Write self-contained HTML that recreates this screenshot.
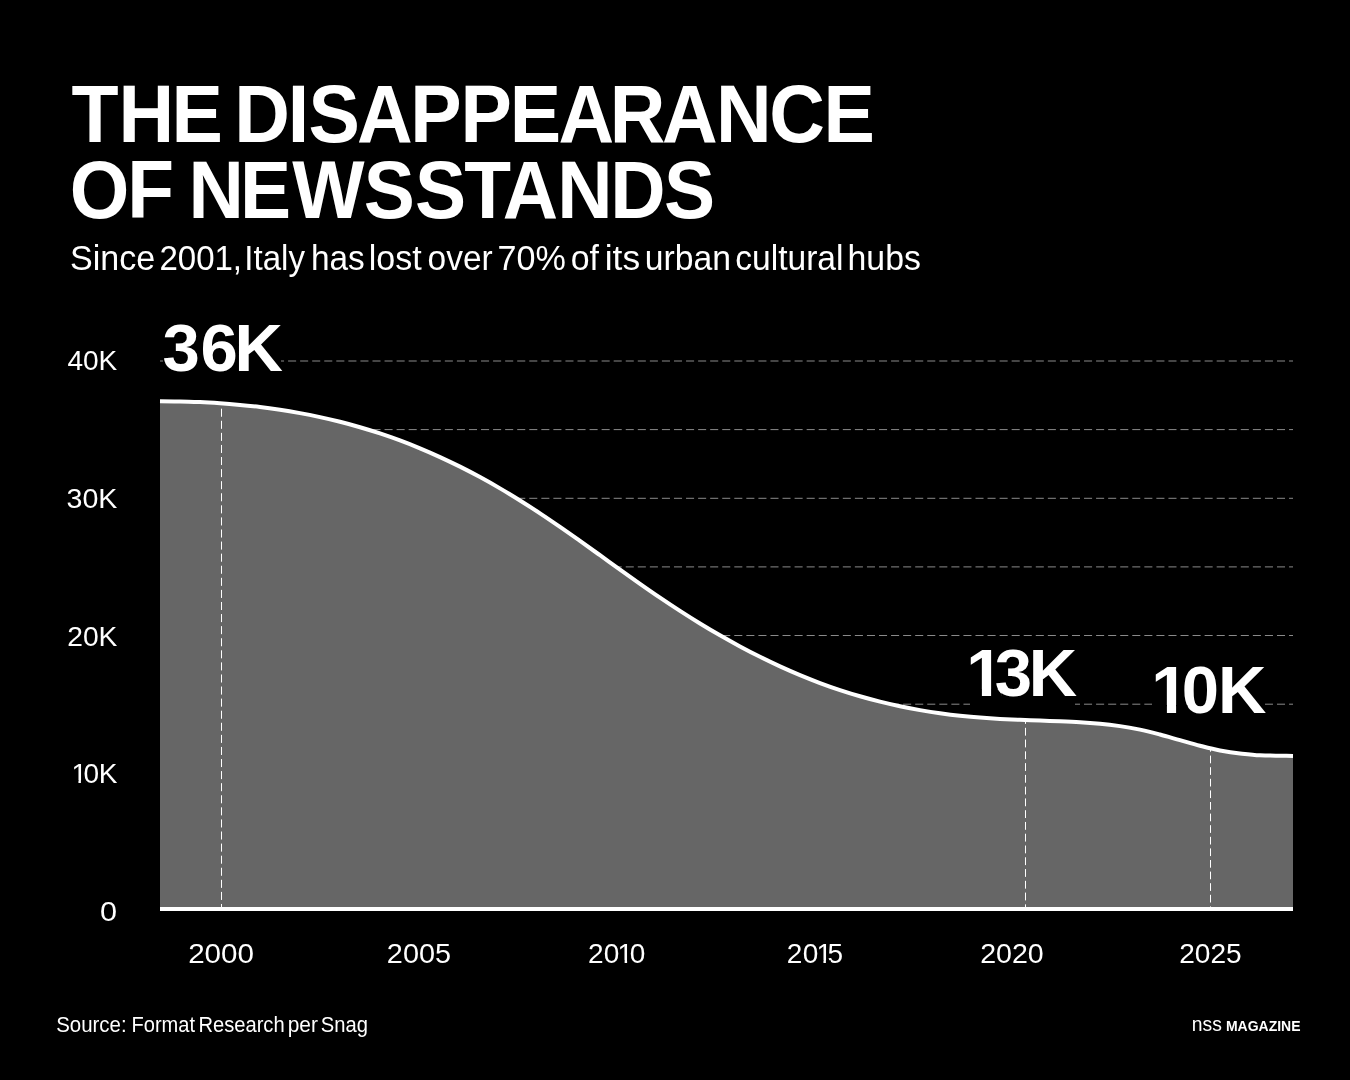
<!DOCTYPE html>
<html><head><meta charset="utf-8">
<style>
html,body{margin:0;padding:0;background:#000;}
body{width:1350px;height:1080px;overflow:hidden;position:relative;}
svg{position:absolute;left:0;top:0;display:block;will-change:transform;}
text{font-family:"Liberation Sans",Arial,sans-serif;fill:#fff;}
</style></head><body>
<svg width="1350" height="1080" viewBox="0 0 1350 1080">
<defs><clipPath id="c13" clipPathUnits="userSpaceOnUse"><rect x="940" y="600" width="160" height="89"/><rect x="981.9" y="688" width="9.2" height="40"/><path d="M997.1,688.6 L1001.0,693.6 L1001.9,693.6 L1001.9,730 L1100,730 L1100,688.6 Z"/></clipPath>
<clipPath id="c10" clipPathUnits="userSpaceOnUse"><rect x="1120" y="600" width="180" height="105"/><rect x="1166.9" y="704" width="9.2" height="40"/><rect x="1187.3" y="704" width="120" height="40"/></clipPath><mask id="m2010" maskUnits="userSpaceOnUse" x="579.71" y="923.4" width="120" height="60"><rect x="579.71" y="923.4" width="120" height="60" fill="#fff"/><rect x="618.71" y="960.40" width="5.91" height="3.6" fill="#000"/><rect x="627.10" y="960.40" width="5.04" height="3.6" fill="#000"/></mask><mask id="m2015" maskUnits="userSpaceOnUse" x="778.51" y="923.4" width="120" height="60"><rect x="778.51" y="923.4" width="120" height="60" fill="#fff"/><rect x="817.51" y="960.40" width="5.91" height="3.6" fill="#000"/><rect x="825.90" y="960.40" width="5.04" height="3.6" fill="#000"/></mask><mask id="m10k" maskUnits="userSpaceOnUse" x="33.510000000000005" y="743.3" width="120" height="60"><rect x="33.510000000000005" y="743.3" width="120" height="60" fill="#fff"/><rect x="72.51" y="780.30" width="5.91" height="3.6" fill="#000"/><rect x="80.90" y="780.30" width="5.04" height="3.6" fill="#000"/></mask></defs>
<rect width="1350" height="1080" fill="#000"/>
<text transform="translate(0,142) scale(0.935,1)" x="76.47 126.63 183.35 232.79 250.50 307.80 330.00 381.86 438.77 492.56 545.12 597.26 652.08 708.01 765.88 822.84 880.79" y="0" font-size="82.4" font-weight="700">THE DISAPPEARANCE</text><text transform="translate(0,218) scale(0.93,1)" x="75.14 136.92 186.36 202.69 257.99 314.34 391.11 446.33 499.17 540.58 599.08 656.10 713.91" y="0" font-size="82.4" font-weight="700">OF NEWSSTANDS</text>
<text y="269.8" font-size="34.6"><tspan x="70.06" textLength="85.20" lengthAdjust="spacingAndGlyphs">Since</tspan> <tspan x="159.39" textLength="82.68" lengthAdjust="spacingAndGlyphs">2001,</tspan> <tspan x="244.32" textLength="60.66" lengthAdjust="spacingAndGlyphs">Italy</tspan> <tspan x="310.90" textLength="53.87" lengthAdjust="spacingAndGlyphs">has</tspan> <tspan x="368.72" textLength="52.96" lengthAdjust="spacingAndGlyphs">lost</tspan> <tspan x="427.50" textLength="65.17" lengthAdjust="spacingAndGlyphs">over</tspan> <tspan x="497.62" textLength="68.33" lengthAdjust="spacingAndGlyphs">70%</tspan> <tspan x="570.69" textLength="28.25" lengthAdjust="spacingAndGlyphs">of</tspan> <tspan x="604.73" textLength="35.37" lengthAdjust="spacingAndGlyphs">its</tspan> <tspan x="644.81" textLength="86.18" lengthAdjust="spacingAndGlyphs">urban</tspan> <tspan x="735.19" textLength="108.30" lengthAdjust="spacingAndGlyphs">cultural</tspan> <tspan x="847.57" textLength="73.35" lengthAdjust="spacingAndGlyphs">hubs</tspan></text>
<g stroke="#8a8a8a" stroke-width="1" stroke-dasharray="8.04 4.02" stroke-dashoffset="4.59"><line x1="160" y1="361.0" x2="1293" y2="361.0"/><line x1="160" y1="429.6" x2="1293" y2="429.6"/><line x1="160" y1="498.3" x2="1293" y2="498.3"/><line x1="160" y1="566.9" x2="1293" y2="566.9"/><line x1="160" y1="635.5" x2="1293" y2="635.5"/><line x1="160" y1="704.2" x2="1293" y2="704.2"/><line x1="160" y1="772.8" x2="1293" y2="772.8"/><line x1="160" y1="841.5" x2="1293" y2="841.5"/></g>
<path d="M160.00,401.14 C166.67,401.17 173.33,401.29 180.00,401.43 C186.67,401.56 193.33,401.83 200.00,402.12 C206.67,402.41 213.33,402.82 220.00,403.26 C226.67,403.71 233.33,404.27 240.00,404.89 C246.67,405.51 253.33,406.25 260.00,407.05 C266.67,407.85 273.33,408.78 280.00,409.78 C286.67,410.78 293.33,411.91 300.00,413.12 C306.67,414.33 313.33,415.68 320.00,417.12 C326.67,418.55 333.33,420.13 340.00,421.80 C346.67,423.48 353.33,425.30 360.00,427.23 C366.67,429.15 373.33,431.23 380.00,433.43 C386.67,435.62 393.33,437.97 400.00,440.44 C406.67,442.92 413.33,445.55 420.00,448.32 C426.67,451.08 433.33,454.01 440.00,457.06 C446.67,460.11 453.33,463.33 460.00,466.66 C466.67,469.99 473.33,473.49 480.00,477.10 C486.67,480.72 493.33,484.49 500.00,488.37 C506.67,492.26 513.33,496.30 520.00,500.45 C526.67,504.61 533.33,508.93 540.00,513.33 C546.67,517.73 553.33,522.29 560.00,526.89 C566.67,531.48 573.33,536.20 580.00,540.92 C586.67,545.64 593.33,550.44 600.00,555.22 C606.67,559.99 613.33,564.81 620.00,569.57 C626.67,574.33 633.33,579.10 640.00,583.77 C646.67,588.44 653.33,593.09 660.00,597.61 C666.67,602.13 673.33,606.57 680.00,610.88 C686.67,615.19 693.33,619.39 700.00,623.46 C706.67,627.54 713.33,631.50 720.00,635.33 C726.67,639.16 733.33,642.88 740.00,646.46 C746.67,650.04 753.33,653.51 760.00,656.82 C766.67,660.14 773.33,663.34 780.00,666.39 C786.67,669.44 793.33,672.37 800.00,675.14 C806.67,677.91 813.33,680.57 820.00,683.05 C826.67,685.53 833.33,687.90 840.00,690.09 C846.67,692.29 853.33,694.37 860.00,696.29 C866.67,698.21 873.33,700.01 880.00,701.67 C886.67,703.32 893.33,704.87 900.00,706.27 C906.67,707.67 913.33,708.97 920.00,710.13 C926.67,711.29 933.33,712.36 940.00,713.28 C946.67,714.21 953.33,715.06 960.00,715.77 C966.67,716.47 973.33,717.11 980.00,717.61 C986.67,718.12 993.33,718.55 1000.00,718.91 C1006.67,719.27 1013.33,719.56 1020.00,719.83 C1026.67,720.11 1033.33,720.33 1040.00,720.58 C1046.67,720.83 1053.33,721.05 1060.00,721.33 C1066.67,721.62 1073.33,721.91 1080.00,722.30 C1086.67,722.69 1093.33,723.18 1100.00,723.78 C1106.67,724.38 1113.33,725.18 1120.00,726.12 C1126.67,727.05 1133.33,728.28 1140.00,729.65 C1146.67,731.02 1153.33,732.80 1160.00,734.55 C1166.67,736.29 1173.33,738.32 1180.00,740.18 C1186.67,742.05 1193.33,744.05 1200.00,745.75 C1206.67,747.45 1213.33,749.21 1220.00,750.44 C1226.67,751.68 1233.33,752.73 1240.00,753.49 C1246.67,754.25 1253.33,755.08 1260.00,755.30 C1266.67,755.52 1273.33,755.59 1280.00,755.70 C1284.33,755.77 1288.67,755.84 1293.00,755.90 L1293,909 L160,909 Z" fill="#666"/>
<g stroke="#fff" stroke-width="1"><line x1="221.5" y1="403.37" x2="221.5" y2="907" stroke-dasharray="8.05 4.03" stroke-dashoffset="6.75"/><line x1="1025.5" y1="720.05" x2="1025.5" y2="907" stroke-dasharray="7.85 3.92" stroke-dashoffset="4.02"/><line x1="1210.5" y1="748.39" x2="1210.5" y2="907" stroke-dasharray="7.7 3.90" stroke-dashoffset="4.39"/></g>
<path d="M160.00,401.14 C166.67,401.17 173.33,401.29 180.00,401.43 C186.67,401.56 193.33,401.83 200.00,402.12 C206.67,402.41 213.33,402.82 220.00,403.26 C226.67,403.71 233.33,404.27 240.00,404.89 C246.67,405.51 253.33,406.25 260.00,407.05 C266.67,407.85 273.33,408.78 280.00,409.78 C286.67,410.78 293.33,411.91 300.00,413.12 C306.67,414.33 313.33,415.68 320.00,417.12 C326.67,418.55 333.33,420.13 340.00,421.80 C346.67,423.48 353.33,425.30 360.00,427.23 C366.67,429.15 373.33,431.23 380.00,433.43 C386.67,435.62 393.33,437.97 400.00,440.44 C406.67,442.92 413.33,445.55 420.00,448.32 C426.67,451.08 433.33,454.01 440.00,457.06 C446.67,460.11 453.33,463.33 460.00,466.66 C466.67,469.99 473.33,473.49 480.00,477.10 C486.67,480.72 493.33,484.49 500.00,488.37 C506.67,492.26 513.33,496.30 520.00,500.45 C526.67,504.61 533.33,508.93 540.00,513.33 C546.67,517.73 553.33,522.29 560.00,526.89 C566.67,531.48 573.33,536.20 580.00,540.92 C586.67,545.64 593.33,550.44 600.00,555.22 C606.67,559.99 613.33,564.81 620.00,569.57 C626.67,574.33 633.33,579.10 640.00,583.77 C646.67,588.44 653.33,593.09 660.00,597.61 C666.67,602.13 673.33,606.57 680.00,610.88 C686.67,615.19 693.33,619.39 700.00,623.46 C706.67,627.54 713.33,631.50 720.00,635.33 C726.67,639.16 733.33,642.88 740.00,646.46 C746.67,650.04 753.33,653.51 760.00,656.82 C766.67,660.14 773.33,663.34 780.00,666.39 C786.67,669.44 793.33,672.37 800.00,675.14 C806.67,677.91 813.33,680.57 820.00,683.05 C826.67,685.53 833.33,687.90 840.00,690.09 C846.67,692.29 853.33,694.37 860.00,696.29 C866.67,698.21 873.33,700.01 880.00,701.67 C886.67,703.32 893.33,704.87 900.00,706.27 C906.67,707.67 913.33,708.97 920.00,710.13 C926.67,711.29 933.33,712.36 940.00,713.28 C946.67,714.21 953.33,715.06 960.00,715.77 C966.67,716.47 973.33,717.11 980.00,717.61 C986.67,718.12 993.33,718.55 1000.00,718.91 C1006.67,719.27 1013.33,719.56 1020.00,719.83 C1026.67,720.11 1033.33,720.33 1040.00,720.58 C1046.67,720.83 1053.33,721.05 1060.00,721.33 C1066.67,721.62 1073.33,721.91 1080.00,722.30 C1086.67,722.69 1093.33,723.18 1100.00,723.78 C1106.67,724.38 1113.33,725.18 1120.00,726.12 C1126.67,727.05 1133.33,728.28 1140.00,729.65 C1146.67,731.02 1153.33,732.80 1160.00,734.55 C1166.67,736.29 1173.33,738.32 1180.00,740.18 C1186.67,742.05 1193.33,744.05 1200.00,745.75 C1206.67,747.45 1213.33,749.21 1220.00,750.44 C1226.67,751.68 1233.33,752.73 1240.00,753.49 C1246.67,754.25 1253.33,755.08 1260.00,755.30 C1266.67,755.52 1273.33,755.59 1280.00,755.70 C1284.33,755.77 1288.67,755.84 1293.00,755.90" fill="none" stroke="#fff" stroke-width="4" stroke-linejoin="round"/>
<rect x="160" y="907" width="1133" height="4" fill="#fff"/>
<text transform="translate(67.40,370.1) scale(1.0027,1)" font-size="28">40K</text><text transform="translate(66.55,507.9) scale(1.0218,1)" font-size="28">30K</text><text transform="translate(67.20,645.6) scale(1.0088,1)" font-size="28">20K</text><text transform="translate(99.93,920.9) scale(1.0929,1)" font-size="28">0</text><g mask="url(#m10k)"><text x="71.38 83.52 98.67" y="783.3" font-size="28">10K</text></g>
<text transform="translate(188.13,963.4) scale(1.0572,1)" font-size="28">2000</text><text transform="translate(386.87,963.4) scale(1.0305,1)" font-size="28">2005</text><text transform="translate(980.18,963.4) scale(1.0205,1)" font-size="28">2020</text><text transform="translate(1179.21,963.4) scale(1.0022,1)" font-size="28">2025</text><g mask="url(#m2010)"><text x="587.92 603.82 617.58 629.82" y="963.4" font-size="28">2010</text></g><g mask="url(#m2015)"><text x="786.72 802.72 816.38 827.39" y="963.4" font-size="28">2015</text></g>
<rect x="163" y="318" width="118" height="62" fill="#000"/><text x="162.46 200.41 234.43" y="371" font-size="67" font-weight="700">36K</text><rect x="970" y="644" width="105" height="64" fill="#000"/><g clip-path="url(#c13)"><text x="966.30 994.71 1028.78" y="696.2" font-size="67" font-weight="700">13K</text></g><rect x="1152" y="660" width="113" height="62" fill="#000"/><g clip-path="url(#c10)"><text x="1151.30 1181.87 1217.88" y="712.6" font-size="67" font-weight="700">10K</text></g>
<text y="1031.9" font-size="21.3"><tspan x="56.15" textLength="70.48" lengthAdjust="spacingAndGlyphs">Source:</tspan> <tspan x="131.51" textLength="63.47" lengthAdjust="spacingAndGlyphs">Format</tspan> <tspan x="198.40" textLength="86.28" lengthAdjust="spacingAndGlyphs">Research</tspan> <tspan x="287.65" textLength="30.20" lengthAdjust="spacingAndGlyphs">per</tspan> <tspan x="320.76" textLength="47.12" lengthAdjust="spacingAndGlyphs">Snag</tspan></text>
<text transform="translate(1225.98,1030.8) scale(0.9384,1)" font-size="14.9" font-weight="700">MAGAZINE</text>
<text transform="translate(1191.71,1030.9) scale(0.9298,1)" font-size="20.8">nss</text>
</svg>
</body></html>
